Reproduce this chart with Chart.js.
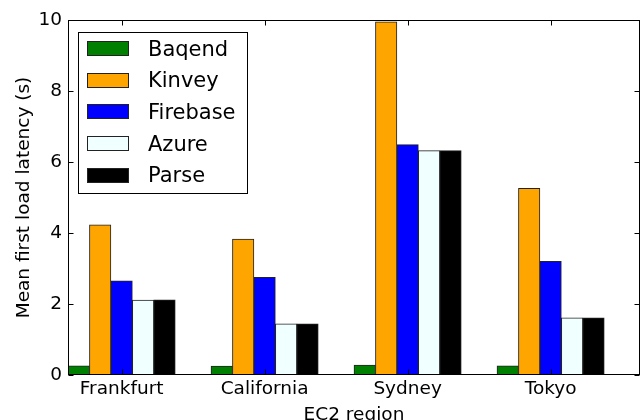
<!DOCTYPE html>
<html>
<head>
<meta charset="utf-8">
<script src="https://cdn.jsdelivr.net/npm/chart.js@4.4.0/dist/chart.umd.min.js"></script>
<style>
  html, body { margin: 0; padding: 0; background: #fff; }
  #wrap { width: 642px; height: 420px; }
</style>
</head>
<body>
<div id="wrap"><canvas id="latencyChart" width="642" height="420"></canvas></div>
<script>
// Data
const regions = ['Frankfurt', 'California', 'Sydney', 'Tokyo'];
const providers = ['Baqend', 'Kinvey', 'Firebase', 'Azure', 'Parse'];
const baqend = [0.26, 0.25, 0.28, 0.26];
const kinvey = [4.23, 3.83, 9.95, 5.26];
const firebase = [2.65, 2.75, 6.49, 3.20];
const azure = [2.11, 1.44, 6.32, 1.61];
const parse = [2.12, 1.44, 6.32, 1.61];
const yTicks = [0, 2, 4, 6, 8, 10];

const providerColors = ['#008000', '#FFA500', '#0000FF', '#F0FFFF', '#000000'];
const FONT = 'DejaVu Sans';

// matplotlib-style layout: bar i of group g sits at g + i*w, width w
const barW = 0.15;
const series = [baqend, kinvey, firebase, azure, parse];
const groupCenters = regions.map((r, g) => g + barW * providers.length / 2);

const datasets = providers.map((name, k) => ({
  label: name,
  data: series[k].map((v, g) => ({ x: g + barW * k + barW / 2, y: v })),
  backgroundColor: providerColors[k],
  borderColor: '#222',
  borderWidth: 1
}));

// Box frame with inward ticks on all four sides
const framePlugin = {
  id: 'frame',
  afterDatasetsDraw(chart) {
    const { ctx, chartArea: a, scales: { x, y } } = chart;
    const L = Math.round(a.left) + 0.5, R = Math.round(a.right) - 0.5;
    const T = Math.round(a.top) + 0.5, B = Math.round(a.bottom) - 0.5;
    const len = 5;
    ctx.save();
    ctx.strokeStyle = '#000';
    ctx.lineWidth = 1;
    ctx.strokeRect(L, T, R - L, B - T);
    ctx.beginPath();
    groupCenters.forEach(v => {
      const px = Math.round(x.getPixelForValue(v)) + 0.5;
      ctx.moveTo(px, B); ctx.lineTo(px, B - len);
      ctx.moveTo(px, T); ctx.lineTo(px, T + len);
    });
    yTicks.forEach(v => {
      const py = Math.round(y.getPixelForValue(v)) + 0.5;
      ctx.moveTo(L, py); ctx.lineTo(L + len, py);
      ctx.moveTo(R, py); ctx.lineTo(R - len, py);
    });
    ctx.stroke();
    ctx.restore();
  }
};

// Framed legend in the upper left of the plot
const legendPlugin = {
  id: 'boxLegend',
  afterDraw(chart) {
    const { ctx, chartArea: a } = chart;
    const left = Math.round(a.left) + 10, top = Math.round(a.top) + 12;
    const w = 169, h = 161, rowH = 31.7;
    ctx.save();
    ctx.fillStyle = '#fff';
    ctx.fillRect(left, top, w, h);
    ctx.strokeStyle = '#000';
    ctx.lineWidth = 1;
    ctx.strokeRect(left + 0.5, top + 0.5, w, h);
    ctx.font = '21px "' + FONT + '"';
    ctx.textBaseline = 'alphabetic';
    ctx.textAlign = 'left';
    chart.data.datasets.forEach((ds, i) => {
      const cy = top + 16.5 + i * rowH;
      const py = Math.round(cy - 7.5);
      ctx.fillStyle = ds.backgroundColor;
      ctx.fillRect(left + 9, py, 42, 15);
      ctx.strokeStyle = '#222';
      ctx.strokeRect(left + 9.5, py + 0.5, 41, 14);
      ctx.fillStyle = '#000';
      ctx.fillText(ds.label, left + 70, cy + 7);
    });
    ctx.restore();
  }
};

new Chart(document.getElementById('latencyChart'), {
  type: 'bar',
  data: { datasets },
  options: {
    responsive: false,
    animation: false,
    devicePixelRatio: 1,
    layout: { padding: { left: 0, top: 20, right: 2, bottom: 0 } },
    datasets: { bar: { grouped: false, barPercentage: 1, categoryPercentage: 1 } },
    plugins: { legend: { display: false }, tooltip: { enabled: false } },
    scales: {
      x: {
        type: 'linear',
        offset: false,
        min: 0,
        max: regions.length,
        afterBuildTicks: ax => { ax.ticks = groupCenters.map(v => ({ value: v })); },
        afterFit: ax => { ax.height = 45; },
        ticks: {
          callback: (v, i) => regions[i],
          autoSkip: false,
          maxRotation: 0,
          padding: 3,
          color: '#000',
          font: { family: FONT, size: 18.5 }
        },
        grid: { display: false, drawTicks: false, offset: false },
        border: { display: false },
        title: {
          display: true,
          text: 'EC2 region',
          color: '#000',
          font: { family: FONT, size: 18.5, lineHeight: 0.55 },
          padding: { top: 0, bottom: 0 }
        }
      },
      y: {
        min: 0,
        max: 10,
        afterBuildTicks: ax => { ax.ticks = yTicks.map(v => ({ value: v })); },
        afterFit: ax => { ax.width = 68; },
        ticks: {
          padding: 6,
          color: '#000',
          font: { family: FONT, size: 18.5 }
        },
        grid: { display: false, drawTicks: false },
        border: { display: false },
        title: {
          display: true,
          text: 'Mean first load latency (s)',
          color: '#000',
          font: { family: FONT, size: 18.5 },
          padding: { top: 13, bottom: 0 }
        }
      }
    }
  },
  plugins: [framePlugin, legendPlugin]
});
</script>
</body>
</html>
